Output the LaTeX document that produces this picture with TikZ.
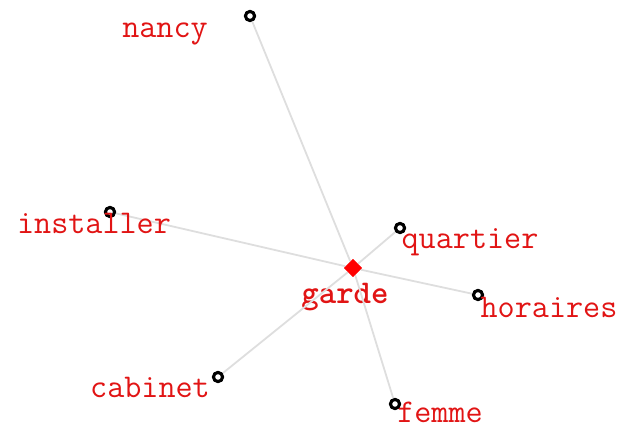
\documentclass[tikz,border=0pt]{standalone}
\usepackage{fontspec}
\usetikzlibrary{shapes.geometric}
\definecolor{wordred}{RGB}{225,20,20}
\definecolor{linkgray}{RGB}{222,222,222}
\tikzset{
  word/.style={font=\ttfamily\fontsize{16.6}{18}\selectfont, text=wordred, inner sep=0pt, anchor=base},
  leaf/.style={circle, draw=black, fill=white, line width=1.5pt, minimum size=4.5pt, inner sep=0pt},
  hub/.style={diamond, fill=red, minimum size=9pt, inner sep=0pt},
  link/.style={linkgray, line width=0.9pt}
}
\begin{document}
\begin{tikzpicture}[x=0.5pt, y=-0.5pt]
    \useasboundingbox (0,0) rectangle (621,427);
    % centre word
    \node[hub] (garde) at (353, 268) {};
    \node[word, font=\ttfamily\bfseries\fontsize{16.6}{18}\selectfont] (gardelbl) at (345, 304) {garde};

    % neighbours
    \node[leaf] (nancy) at (250, 16) {};
    \node[leaf] (installer) at (110, 212) {};
    \node[leaf] (quartier) at (400, 228) {};
    \node[leaf] (horaires) at (478, 295) {};
    \node[leaf] (cabinet) at (218, 377) {};
    \node[leaf] (femme) at (395, 404) {};

    % links
    \foreach \w in {nancy, installer, quartier, horaires, cabinet, femme}
        \draw[link] (garde) -- (\w);
    \node[hub] at (garde) {};
    \foreach \w in {nancy, installer, quartier, horaires, cabinet, femme}
        \node[leaf] at (\w) {};

    % labels
    \node[word] (nancylbl) at (165, 38) {nancy};
    \node[word] (installerlbl) at (94, 234) {installer};
    \node[word] (quartierlbl) at (470, 249) {quartier};
    \node[word] (horaireslbl) at (549, 317) {horaires};
    \node[word] (cabinetlbl) at (150, 397) {cabinet};
    \node[word] (femmelbl) at (440, 422) {femme};
\end{tikzpicture}
\end{document}
